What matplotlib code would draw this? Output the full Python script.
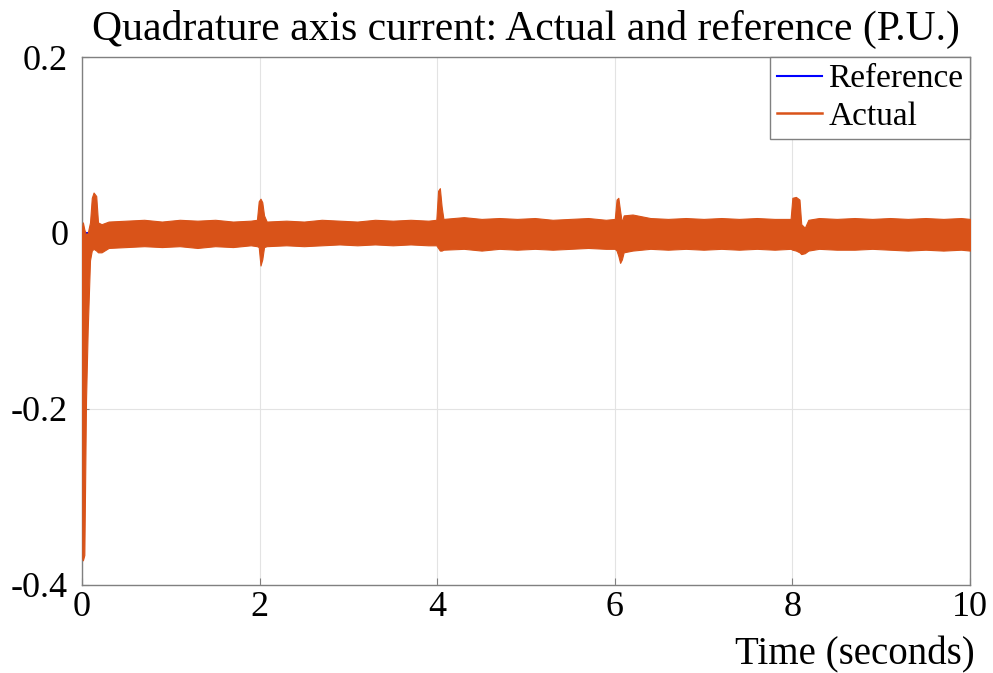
import matplotlib
matplotlib.use("Agg")
import matplotlib.pyplot as plt

# envelope of the noisy actual current (time in s, P.U.)
t_env = [0, 0.003, 0.01, 0.026, 0.045, 0.064, 0.09, 0.11, 0.13, 0.16,
         0.18, 0.22, 0.3, 0.5, 0.7, 0.9, 1.1, 1.3, 1.5, 1.7,
         1.9, 1.97, 1.99, 2.01, 2.03, 2.05, 2.08, 2.3, 2.5, 2.7,
         2.9, 3.1, 3.3, 3.5, 3.7, 3.9, 3.99, 4.01, 4.03, 4.05,
         4.07, 4.3, 4.5, 4.7, 4.9, 5.1, 5.3, 5.5, 5.7, 5.9,
         6.0, 6.02, 6.04, 6.06, 6.08, 6.1, 6.2, 6.4, 6.6, 6.8,
         7.0, 7.2, 7.4, 7.6, 7.8, 7.98, 8.0, 8.04, 8.08, 8.1,
         8.14, 8.18, 8.3, 8.5, 8.7, 8.9, 9.1, 9.3, 9.5, 9.7,
         9.9, 10.0]
actual_hi = [0.0, 0.008, 0.012, 0.004, -0.002, 0.0, 0.012, 0.04, 0.046, 0.042,
             0.012, 0.01, 0.013, 0.014, 0.015, 0.013, 0.015, 0.014, 0.015, 0.013,
             0.014, 0.015, 0.036, 0.039, 0.035, 0.02, 0.013, 0.014, 0.013, 0.015,
             0.014, 0.013, 0.015, 0.014, 0.015, 0.014, 0.015, 0.048, 0.051, 0.03,
             0.016, 0.018, 0.016, 0.017, 0.016, 0.017, 0.015, 0.016, 0.017, 0.015,
             0.016, 0.038, 0.04, 0.025, 0.012, 0.02, 0.021, 0.017, 0.016, 0.017,
             0.016, 0.017, 0.016, 0.017, 0.016, 0.016, 0.04, 0.041, 0.038, 0.01,
             0.006, 0.015, 0.017, 0.016, 0.017, 0.016, 0.017, 0.016, 0.017, 0.016,
             0.017, 0.016]
actual_lo = [0.0, -0.37, -0.372, -0.366, -0.19, -0.11, -0.031, -0.02, -0.018, -0.02,
             -0.022, -0.022, -0.017, -0.016, -0.015, -0.016, -0.015, -0.017, -0.015, -0.016,
             -0.014, -0.015, -0.016, -0.037, -0.03, -0.016, -0.015, -0.014, -0.015, -0.014,
             -0.013, -0.014, -0.013, -0.014, -0.013, -0.014, -0.014, -0.017, -0.02, -0.02,
             -0.019, -0.018, -0.02, -0.018, -0.019, -0.018, -0.019, -0.018, -0.017, -0.018,
             -0.018, -0.02, -0.026, -0.034, -0.03, -0.022, -0.02, -0.018, -0.019, -0.018,
             -0.019, -0.018, -0.019, -0.018, -0.019, -0.018, -0.019, -0.02, -0.022, -0.024,
             -0.023, -0.02, -0.018, -0.019, -0.019, -0.018, -0.019, -0.02, -0.019, -0.02,
             -0.019, -0.02]

t_ref = [0, 10]
reference = [0, 0]

xticks = [0, 2, 4, 6, 8, 10]
yticks = [-0.4, -0.2, 0, 0.2]
yticklabels = ['-0.4', '-0.2', '0', '0.2']

plt.rcParams['font.family'] = ['Liberation Serif', 'DejaVu Serif']

blue = '#0000FF'
orange = '#D95319'

fig = plt.figure(figsize=(9.93, 6.73), dpi=100)
ax = fig.add_axes([0.0826, 0.1308, 0.8942, 0.7845])

ax.plot(t_ref, reference, color=blue, lw=1.5, label='Reference', zorder=2)
ax.fill_between(t_env, actual_lo, actual_hi, color=orange, lw=0.8,
                edgecolor=orange, zorder=3)
ax.plot([], [], color=orange, lw=1.8, label='Actual')

ax.set_xlim(0, 10)
ax.set_ylim(-0.4, 0.2)
ax.set_xticks(xticks)
ax.set_yticks(yticks)
ax.set_yticklabels(yticklabels)
ax.tick_params(direction='in', labelsize=26, length=5, color='#808080')
ax.tick_params(axis='y', pad=10)
ax.tick_params(axis='x', pad=4)
ax.grid(True, color='#e3e3e3', lw=0.8)
for s in ax.spines.values():
    s.set_color('#808080')
    s.set_linewidth(1.0)

ax.set_title('Quadrature axis current: Actual and reference (P.U.)',
             fontsize=30, pad=12)
fig.text(0.982, 0.027, 'Time (seconds)', fontsize=28, ha='right', va='center')

leg = ax.legend(loc='upper right', fontsize=24, borderaxespad=0, fancybox=False,
                framealpha=1, edgecolor='#808080', handlelength=1.35,
                handletextpad=0.2, borderpad=0.2, labelspacing=0.22)
leg.get_frame().set_linewidth(1.0)

fig.savefig('out.png', dpi=100)
